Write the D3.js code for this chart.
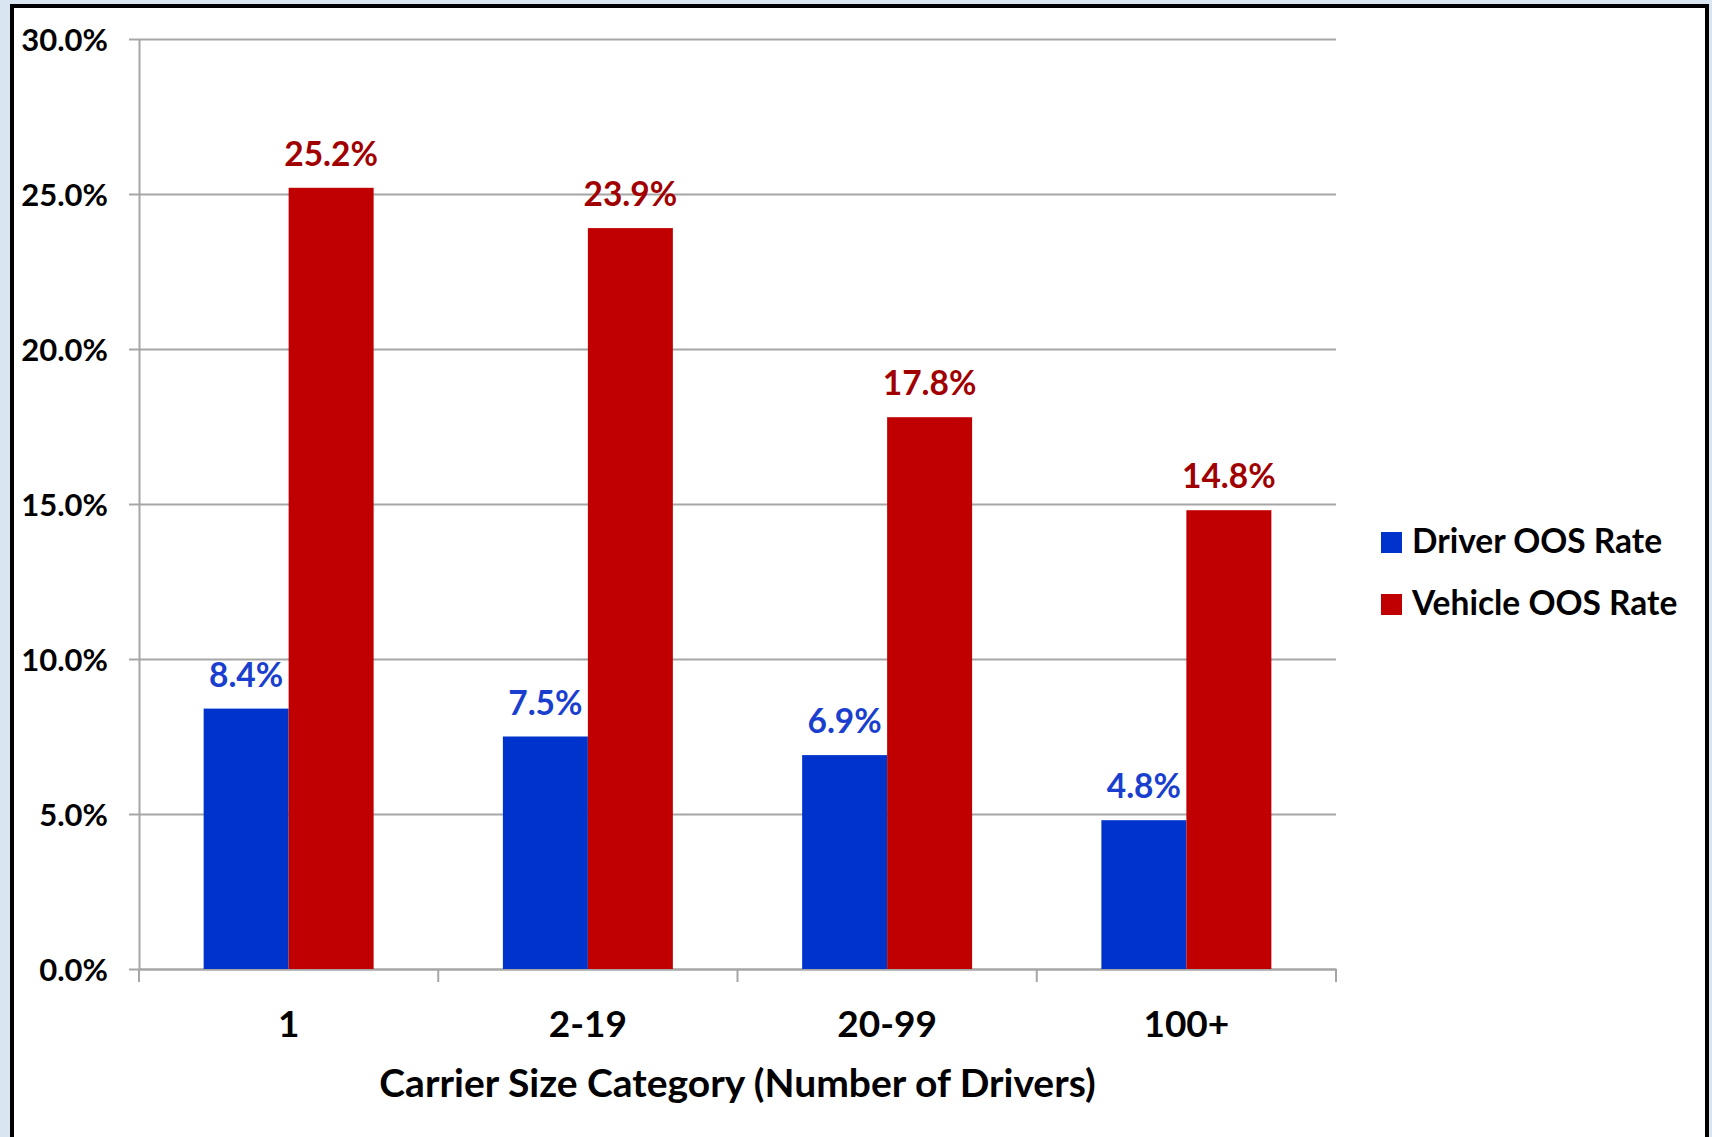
<!DOCTYPE html>
<html>
<head>
<meta charset="utf-8">
<script src="https://cdn.jsdelivr.net/npm/d3@7"></script>
<style>
    body { margin: 0; background: #d9e6f2; }
    svg text { font-family: Lato, 'Open Sans', sans-serif; font-weight: bold; }
    .grid line { stroke: #a6a6a6; stroke-width: 2; }
    .grid path { display: none; }
    .axis path, .axis line { stroke: #a6a6a6; stroke-width: 2; }
</style>
</head>
<body>
<div id="plot"></div>
<script>
var categories = ['1', '2-19', '20-99', '100+'];
var seriesNames = ['Driver OOS Rate', 'Vehicle OOS Rate'];
var driverRates = [8.4, 7.5, 6.9, 4.8];
var vehicleRates = [25.2, 23.9, 17.8, 14.8];
var yTicks = [0, 5, 10, 15, 20, 25, 30];
var barColors = ['#0033cc', '#c00000'];
var labelColors = ['#1a3fcf', '#a00000'];

var width = 1712,
    height = 1137,
    margin = {top: 39, right: 376, bottom: 168, left: 139},
    plotWidth = width - margin.left - margin.right,
    plotHeight = height - margin.top - margin.bottom;

var rows = categories.map(function (c, i) {
    return {category: c, values: [driverRates[i], vehicleRates[i]]};
});

var x0 = d3.scaleBand()
    .domain(categories)
    .range([0, plotWidth])
    .paddingInner(0.432)
    .paddingOuter(0.216);

var x1 = d3.scaleBand()
    .domain(seriesNames)
    .range([0, x0.bandwidth()]);

var y = d3.scaleLinear()
    .domain([0, 30])
    .range([plotHeight, 0]);

var svg = d3.select('#plot')
    .append('svg')
    .attr('width', width)
    .attr('height', height);

// white frame
svg.append('rect')
    .attr('x', 12)
    .attr('y', 6)
    .attr('width', 1695)
    .attr('height', 1200)
    .attr('fill', '#fff')
    .attr('stroke', '#000')
    .attr('stroke-width', 4);

var g = svg.append('g')
    .attr('transform', 'translate(' + margin.left + ',' + margin.top + ')');

g.append('g')
    .classed('grid', true)
    .call(d3.axisLeft(y).tickValues(yTicks).tickSize(-plotWidth).tickFormat(''));

g.append('g')
    .classed('axis', true)
    .call(d3.axisLeft(y)
        .tickValues(yTicks)
        .tickSize(10)
        .tickSizeOuter(0)
        .tickPadding(21)
        .tickFormat(function (d) { return d.toFixed(1) + '%'; }))
    .selectAll('text')
    .style('font-size', '31px')
    .attr('fill', '#000')
    .attr('dy', '0.36em');

var xAxis = g.append('g')
    .classed('axis', true)
    .attr('transform', 'translate(0,' + plotHeight + ')')
    .call(d3.axisBottom(x0).tickSize(0).tickSizeOuter(0));

xAxis.selectAll('text')
    .style('font-size', '37px')
    .attr('fill', '#000')
    .attr('y', 68)
    .attr('dy', null);

// category boundary ticks
xAxis.selectAll('.boundary')
    .data(d3.range(categories.length + 1))
    .enter()
    .append('line')
    .attr('x1', function (i) { return i * x0.step(); })
    .attr('x2', function (i) { return i * x0.step(); })
    .attr('y1', 0)
    .attr('y2', 13)
    .attr('stroke', '#a6a6a6')
    .attr('stroke-width', 2);

var groups = g.append('g')
    .selectAll('g')
    .data(rows)
    .enter()
    .append('g')
    .attr('transform', function (d) { return 'translate(' + x0(d.category) + ',0)'; });

groups.selectAll('rect')
    .data(function (d) { return d.values; })
    .enter()
    .append('rect')
    .attr('x', function (d, i) { return x1(seriesNames[i]); })
    .attr('y', function (d) { return y(d); })
    .attr('width', x1.bandwidth())
    .attr('height', function (d) { return plotHeight - y(d); })
    .attr('fill', function (d, i) { return barColors[i]; });

groups.selectAll('text')
    .data(function (d) { return d.values; })
    .enter()
    .append('text')
    .attr('x', function (d, i) { return x1(seriesNames[i]) + x1.bandwidth() / 2; })
    .attr('y', function (d) { return y(d) - 22; })
    .attr('text-anchor', 'middle')
    .style('font-size', '33.5px')
    .attr('fill', function (d, i) { return labelColors[i]; })
    .text(function (d) { return d.toFixed(1) + '%'; });

g.append('text')
    .attr('x', plotWidth / 2)
    .attr('y', plotHeight + 128)
    .attr('text-anchor', 'middle')
    .style('font-size', '39px')
    .attr('fill', '#000')
    .text('Carrier Size Category (Number of Drivers)');

var legend = svg.append('g')
    .attr('transform', 'translate(1381,532)');

var items = legend.selectAll('g')
    .data(seriesNames)
    .enter()
    .append('g')
    .attr('transform', function (d, i) { return 'translate(0,' + i * 62 + ')'; });

items.append('rect')
    .attr('width', 21)
    .attr('height', 21)
    .attr('fill', function (d, i) { return barColors[i]; });

items.append('text')
    .attr('x', 31)
    .attr('y', 21)
    .style('font-size', '33.5px')
    .attr('fill', '#000')
    .text(function (d) { return d; });
</script>
</body>
</html>
